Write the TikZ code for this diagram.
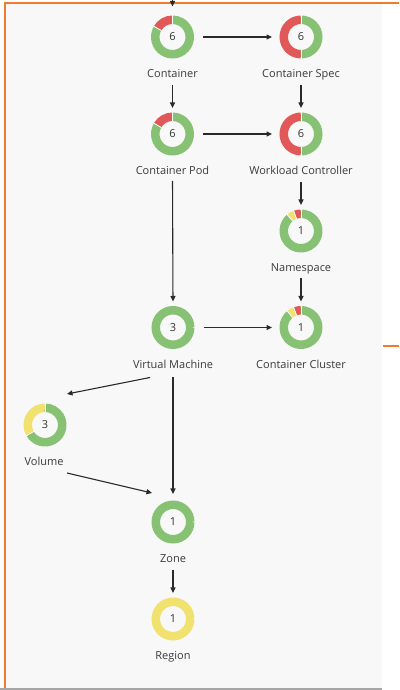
\documentclass[tikz,border=0pt]{standalone}
\usepackage{fontspec}
\setmainfont{Open Sans}
\usetikzlibrary{arrows.meta,calc}
\definecolor{dgreen}{HTML}{87C173}
\definecolor{dred}{HTML}{E15858}
\definecolor{dyellow}{HTML}{F1E16F}
\definecolor{frameorange}{HTML}{EE7C30}
\definecolor{bggray}{HTML}{F8F8F8}
\definecolor{numc}{HTML}{333333}
\definecolor{labc}{HTML}{3A3A3A}
\definecolor{arrc}{HTML}{2A2A2A}
\newcommand\donutseg[4]{%
  \draw[line width=8.5pt,#2] ($(#1)+(#3:17.25)$) arc[start angle=#3,end angle=#4,radius=17.25];}
\newcommand\donutcut[2]{%
  \draw[white,line width=0.8pt] ($(#1)+(#2:12.8)$) -- ($(#1)+(#2:21.7)$);}
\begin{document}
\begin{tikzpicture}[x=1pt,y=1pt,
  donut/.style={circle,minimum size=43pt,inner sep=0pt,outer sep=0pt,font=\fontsize{11}{13}\selectfont,text=numc},
  lab/.style={anchor=base,inner sep=0pt,outer sep=0pt,text height=8pt,text depth=2.5pt,font=\fontsize{11}{13}\selectfont,text=labc},
  arr/.style={draw=arrc,line width=1.1pt,-{Triangle[length=5.5pt,width=5pt]}},
  vshort/.style={shorten <=4.5pt,shorten >=4.5pt},
  hshort/.style={shorten <=9pt,shorten >=7.5pt},
]
\useasboundingbox (0,0) rectangle (399,690);
% frame
\fill[bggray] (6,2) rectangle (382,686);
\draw[frameorange,line width=2pt] (399,687) -- (5,687) -- (5,1.5);
\draw[black!35,line width=1.2pt] (0,1) -- (382,1);
\draw[frameorange,line width=2pt] (383,343.5) -- (399,343.5);

% donut nodes
\node[donut] (cont) at (172.5,653) {6};
\node[donut] (spec) at (301,653) {6};
\node[donut] (pod)  at (172.5,556) {6};
\node[donut] (wc)   at (301,556) {6};
\node[donut] (ns)   at (301,459) {1};
\node[donut] (cc)   at (301,362.5) {1};
\node[donut] (vm)   at (173,362.5) {3};
\node[donut] (vol)  at (45,265) {3};
\node[donut] (zone) at (173,168) {1};
\node[donut] (reg)  at (173,71) {1};

% labels
\node[lab] (contl) at (172.5,612) {Container};
\node[lab] (specl) at (301,612) {Container Spec};
\node[lab] (podl)  at (172.5,515) {Container Pod};
\node[lab] (wcl)   at (301,515) {Workload Controller};
\node[lab] (nsl)   at (301,418) {Namespace};
\node[lab] (ccl)   at (301,321.5) {Container Cluster};
\node[lab] (vml)   at (173,321.5) {Virtual Machine};
\node[lab] (voll)  at (44,224) {Volume};
\node[lab] (zonel) at (173,127) {Zone};
\node[lab] (regl)  at (173,30) {Region};

% rings
\donutseg{cont}{dred}{90}{150}\donutseg{cont}{dgreen}{150}{450}
\donutcut{cont}{90}\donutcut{cont}{150}
\donutseg{pod}{dred}{90}{150}\donutseg{pod}{dgreen}{150}{450}
\donutcut{pod}{90}\donutcut{pod}{150}
\donutseg{spec}{dred}{90}{270}\donutseg{spec}{dgreen}{270}{450}
\donutcut{spec}{90}\donutcut{spec}{270}
\donutseg{wc}{dred}{90}{270}\donutseg{wc}{dgreen}{270}{450}
\donutcut{wc}{90}\donutcut{wc}{270}
\donutseg{ns}{dred}{90}{110}\donutseg{ns}{dyellow}{110}{130}\donutseg{ns}{dgreen}{130}{450}
\donutcut{ns}{90}\donutcut{ns}{110}\donutcut{ns}{130}
\donutseg{cc}{dred}{90}{110}\donutseg{cc}{dyellow}{110}{130}\donutseg{cc}{dgreen}{130}{450}
\donutcut{cc}{90}\donutcut{cc}{110}\donutcut{cc}{130}
\donutseg{vm}{dgreen}{0}{360}
\donutseg{zone}{dgreen}{0}{360}
\donutseg{vol}{dyellow}{90}{210}\donutseg{vol}{dgreen}{210}{450}
\donutcut{vol}{90}\donutcut{vol}{210}
\donutseg{reg}{dyellow}{0}{360}

% connectors
\coordinate (topin) at (172.5,690);
\draw[arr] (topin) -- ([yshift=9pt]cont.north);
\draw[arr,hshort] (cont.east) -- (spec.west);
\draw[arr,hshort] (pod.east) -- (wc.west);
\draw[arr,hshort] (vm.east) -- (cc.west);
\draw[arr,vshort] (contl.south) -- (pod.north);
\draw[arr,vshort] (specl.south) -- (wc.north);
\draw[arr,vshort] (wcl.south) -- (ns.north);
\draw[arr,shorten <=3.5pt,shorten >=4.5pt] (nsl.south) -- (cc.north);
\draw[arr,shorten <=3.5pt,shorten >=4.5pt] (podl.south) -- (vm.north);
\draw[arr,shorten <=6pt,shorten >=6.5pt] (vml.south) -- (zone.north);
\draw[arr,vshort] (zonel.south) -- (reg.north);
\draw[arr] ($(vm.center)+(-23,-50)$) -- ($(vol.center)+(22,31)$);
\draw[arr] ($(vol.center)+(22,-48)$) -- ($(zone.center)+(-21,29)$);
\end{tikzpicture}
\end{document}
